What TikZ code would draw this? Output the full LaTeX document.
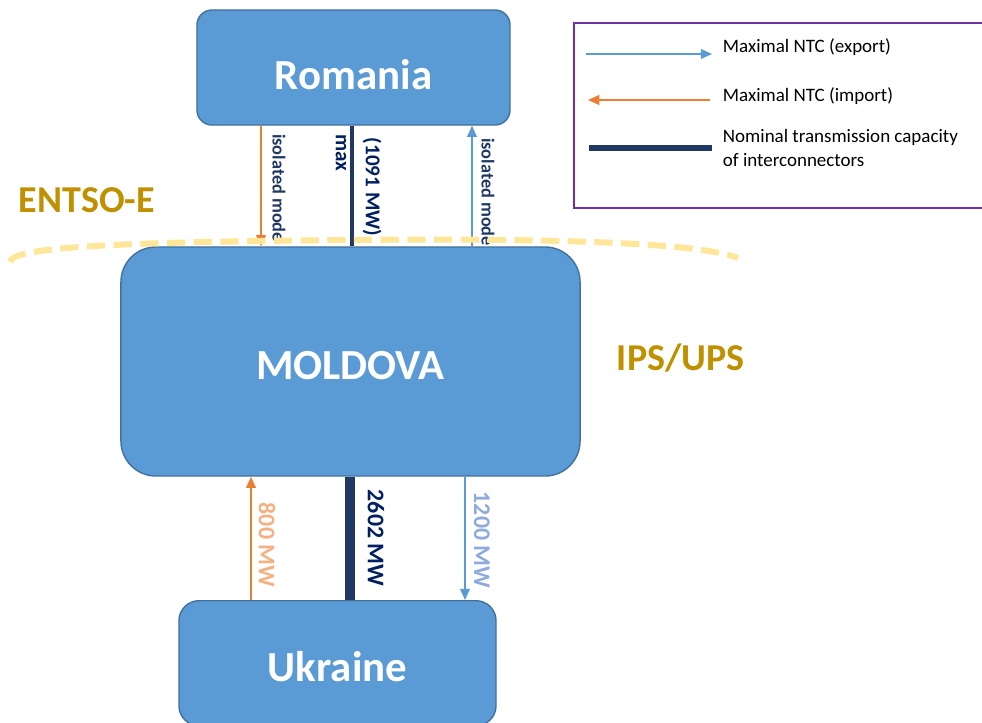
\documentclass[tikz,border=0pt]{standalone}
\usepackage{fontspec}
\setmainfont{Carlito}
\usetikzlibrary{arrows.meta, positioning, calc}
\definecolor{boxblue}{HTML}{5B9BD5}
\definecolor{boxedge}{HTML}{41719C}
\definecolor{imporange}{HTML}{ED7D31}
\definecolor{lightorange}{HTML}{F4B183}
\definecolor{lightblue}{HTML}{8FAADC}
\definecolor{navy}{HTML}{203864}
\definecolor{darknavy}{HTML}{002060}
\definecolor{gold}{HTML}{BF9000}
\definecolor{paleyellow}{HTML}{FFE699}
\definecolor{legendpurple}{HTML}{7030A0}

\begin{document}
\begin{tikzpicture}[x=0.025cm, y=-0.025cm,
  country/.style={draw=boxedge, line width=1pt, fill=boxblue, text=white, text depth=0pt,
                  font=\bfseries\fontsize{30.5}{36}\selectfont},
  exparr/.style={-{Triangle[length=8pt,width=7pt]}, draw=boxblue, line width=0.9pt},
  imparr/.style={-{Triangle[length=8pt,width=7pt]}, draw=imporange, line width=0.9pt},
  nominal/.style={draw=navy, line width=#1},
  vlabel/.style={rotate=-90, inner sep=0pt, font=\bfseries\fontsize{#1}{#1}\selectfont},
  zone/.style={anchor=west, text=gold, font=\bfseries\fontsize{27}{32}\selectfont},
  legtext/.style={anchor=west, align=left, font=\fontsize{13.5}{16.5}\selectfont}
]
  \useasboundingbox (0,0) rectangle (982,723);
  \clip (0,0) rectangle (982,723);

  % countries
  \node[country, minimum width=7.825cm, minimum height=2.875cm, rounded corners=0.375cm,
        text height=32pt] (romania) at (353.5,67.5) {Romania};
  \node[country, minimum width=11.475cm, minimum height=5.725cm, rounded corners=0.875cm,
        text height=25pt] (moldova) at (350.5,361.5) {MOLDOVA};
  \node[country, minimum width=7.925cm, minimum height=3.125cm, rounded corners=0.5cm,
        text height=26pt, anchor=north] (ukraine) at (337.5,600) {Ukraine};

  % Romania - Moldova
  \draw[imparr] (romania.south -| 261,0) -- (moldova.north -| 261,0);
  \draw[nominal=3.5pt] (romania.south -| 352,0) -- (moldova.north -| 352,0);
  \draw[exparr] (moldova.north -| 472,0) -- (romania.south -| 472,0);
  \node[vlabel=13, text=navy] (isoimp) at (279,188) {isolated mode};
  \node[vlabel=15, text=darknavy] (maxlbl) at (341,153) {max};
  \node[vlabel=15, text=darknavy] (romcap) at (372,187) {(1091 MW)};
  \node[vlabel=13, text=navy] (isoexp) at (488,192) {isolated mode};

  % Moldova - Ukraine
  \draw[imparr] (ukraine.north -| 251,0) -- (moldova.south -| 251,0);
  \draw[nominal=7pt] (moldova.south -| 350,0) -- (ukraine.north -| 350,0);
  \draw[exparr] (moldova.south -| 465,0) -- (ukraine.north -| 465,0);
  \node[vlabel=17, text=lightorange] (ukrimp) at (267,545) {800 MW};
  \node[vlabel=17, text=darknavy] (ukrcap) at (376,538) {2602 MW};
  \node[vlabel=17, text=lightblue] (ukrexp) at (482,540) {1200 MW};

  % synchronous areas
  \node[zone] (entso) at (14,200) {ENTSO-E};
  \node[zone] (ips) at (612,358) {IPS/UPS};
  \draw[paleyellow, line width=4.3pt, dash pattern=on 13pt off 6pt]
    (10,262) .. controls (12,248) and (100,242) .. (350,240)
    .. controls (560,238) and (700,243) .. (738,258);

  % legend
  \node[draw=legendpurple, line width=1.4pt, minimum width=10.75cm, minimum height=4.625cm,
        anchor=north west] (legend) at (573,22) {};
  \coordinate (expa) at (586,54);
  \coordinate (expb) at (712,54);
  \coordinate (impa) at (710,100);
  \coordinate (impb) at (588,100);
  \coordinate (noma) at (589,148);
  \coordinate (nomb) at (712,148);
  \draw[exparr] (expa) -- (expb);
  \draw[imparr] (impa) -- (impb);
  \draw[nominal=4.2pt] (noma) -- (nomb);
  \node[legtext] (exptext) at (718,47) {Maximal NTC (export)};
  \node[legtext] (imptext) at (718,96) {Maximal NTC (import)};
  \node[legtext] (nomtext) at (718,148) {Nominal transmission capacity\\of interconnectors};
\end{tikzpicture}
\end{document}
